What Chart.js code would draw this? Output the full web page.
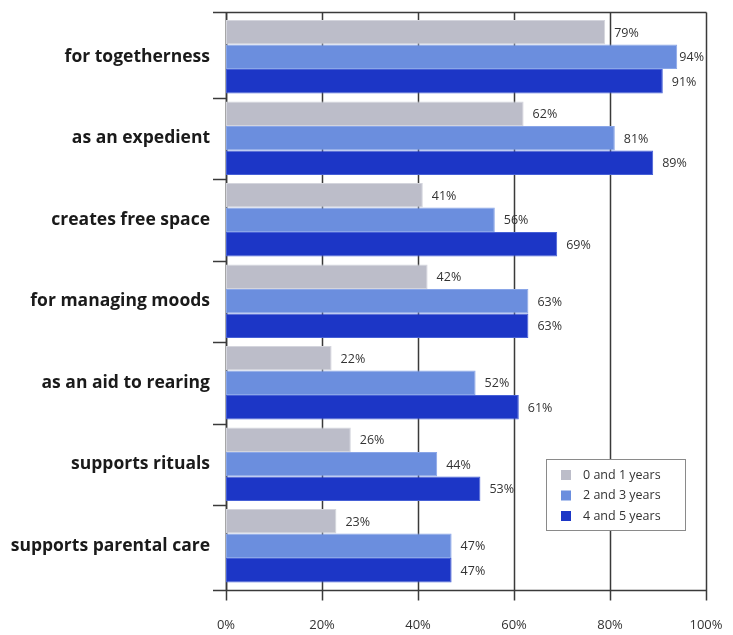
<!DOCTYPE html>
<html>
<head>
<meta charset="utf-8">
<script src="https://cdn.jsdelivr.net/npm/chart.js@4"></script>
<style>
  html, body { margin: 0; padding: 0; background: #ffffff; }
  #wrap { width: 733px; height: 635px; }
</style>
</head>
<body>
<div id="wrap"><canvas id="c" width="733" height="635"></canvas></div>
<script>
const categories = [
  'for togetherness',
  'as an expedient',
  'creates free space',
  'for managing moods',
  'as an aid to rearing',
  'supports rituals',
  'supports parental care'
];
const seriesNames = ['0 and 1 years', '2 and 3 years', '4 and 5 years'];
const ages01 = [79, 62, 41, 42, 22, 26, 23];
const ages23 = [94, 81, 56, 63, 52, 44, 47];
const ages45 = [91, 89, 69, 63, 61, 53, 47];
const xTickValues = [0, 20, 40, 60, 80, 100];

const colors = ['#bcbdc9', '#6b8ede', '#1c36c6'];
const edgeColors = ['#d4d5dd', '#8aa6e8', '#4660d6'];

const FRAME_TOP = 12.5;
const FRAME_BOTTOM = 590.5;
const FRAME_LEFT_OUT = 213;
const LINE_COLOR = '#3a3a3a';

const framePlugin = {
  id: 'frame',
  beforeDatasetsDraw(chart) {
    const ctx = chart.ctx;
    const xs = chart.scales.x;
    const ys = chart.scales.y;
    const x0 = Math.round(xs.getPixelForValue(0)) + 0.5;
    const xr = Math.round(xs.getPixelForValue(100)) + 0.5;
    ctx.save();
    ctx.strokeStyle = LINE_COLOR;
    ctx.lineWidth = 1.5;
    xTickValues.forEach(v => {
      const px = Math.round(xs.getPixelForValue(v)) + 0.5;
      ctx.beginPath();
      ctx.moveTo(px, FRAME_TOP);
      ctx.lineTo(px, FRAME_BOTTOM + 10);
      ctx.stroke();
    });
    ctx.beginPath();
    ctx.moveTo(FRAME_LEFT_OUT, FRAME_TOP);
    ctx.lineTo(xr, FRAME_TOP);
    ctx.moveTo(FRAME_LEFT_OUT, FRAME_BOTTOM);
    ctx.lineTo(xr, FRAME_BOTTOM);
    ctx.stroke();
    ctx.beginPath();
    ctx.moveTo(x0, FRAME_TOP);
    ctx.lineTo(x0, FRAME_BOTTOM);
    ctx.stroke();
    const step = ys.getPixelForValue(1) - ys.getPixelForValue(0);
    for (let i = 1; i < categories.length; i++) {
      const py = Math.round(ys.getPixelForValue(i) - step / 2) + 0.5;
      ctx.beginPath();
      ctx.moveTo(FRAME_LEFT_OUT, py);
      ctx.lineTo(x0, py);
      ctx.stroke();
    }
    ctx.restore();
  },
  afterDatasetsDraw(chart) {
    const ctx = chart.ctx;
    ctx.save();
    ctx.font = '12.5px "Open Sans", sans-serif';
    ctx.fillStyle = '#333333';
    ctx.textBaseline = 'middle';
    ctx.textAlign = 'left';
    chart.data.datasets.forEach((ds, di) => {
      const meta = chart.getDatasetMeta(di);
      meta.data.forEach((el, i) => {
        const txt = ds.data[i] + '%';
        const w = ctx.measureText(txt).width;
        const x = Math.min(el.x + 9, 704 - w);
        ctx.fillText(txt, x, el.y + 1);
      });
    });
    const lx = 546.5, ly = 459.5, lw = 139, lh = 71;
    ctx.fillStyle = '#ffffff';
    ctx.fillRect(lx, ly, lw, lh);
    ctx.strokeStyle = '#8a8a8a';
    ctx.lineWidth = 1;
    ctx.strokeRect(lx, ly, lw, lh);
    const rows = [475, 495.5, 516];
    chart.data.datasets.forEach((ds, di) => {
      ctx.fillStyle = colors[di];
      ctx.fillRect(561, rows[di] - 5, 10, 10);
      ctx.fillStyle = '#333333';
      ctx.font = '12.5px "Open Sans", sans-serif';
      ctx.fillText(ds.label, 583, rows[di]);
    });
    ctx.restore();
  }
};

new Chart(document.getElementById('c'), {
  type: 'bar',
  data: {
    labels: categories,
    datasets: [
      { label: seriesNames[0], data: ages01, backgroundColor: colors[0], borderColor: edgeColors[0], borderWidth: 1, borderSkipped: false },
      { label: seriesNames[1], data: ages23, backgroundColor: colors[1], borderColor: edgeColors[1], borderWidth: 1, borderSkipped: false },
      { label: seriesNames[2], data: ages45, backgroundColor: colors[2], borderColor: edgeColors[2], borderWidth: 1, borderSkipped: false }
    ]
  },
  options: {
    indexAxis: 'y',
    responsive: false,
    animation: false,
    devicePixelRatio: 1,
    layout: { padding: { top: 16, right: 27, left: 0, bottom: 0 } },
    datasets: { bar: { categoryPercentage: 0.902, barPercentage: 1.0 } },
    plugins: {
      legend: { display: false },
      tooltip: { enabled: false }
    },
    scales: {
      x: {
        min: 0,
        max: 100,
        afterBuildTicks(scale) {
          scale.ticks = xTickValues.map(v => ({ value: v }));
        },
        afterFit(scale) {
          scale.height = 48.5;
          scale.paddingLeft = 0;
          scale.paddingRight = 0;
        },
        grid: { display: false },
        border: { display: false },
        ticks: {
          padding: 23,
          color: '#333333',
          font: { family: '"Open Sans", sans-serif', size: 13 },
          maxRotation: 0,
          callback: v => v + '%'
        }
      },
      y: {
        afterFit(scale) {
          scale.width = 226;
          scale.paddingTop = 0;
          scale.paddingBottom = 0;
        },
        grid: { display: false },
        border: { display: false },
        ticks: {
          padding: 8,
          color: '#1a1a1a',
          font: { family: '"Open Sans", sans-serif', size: 17.5, weight: '700' }
        }
      }
    }
  },
  plugins: [framePlugin]
});
</script>
</body>
</html>
